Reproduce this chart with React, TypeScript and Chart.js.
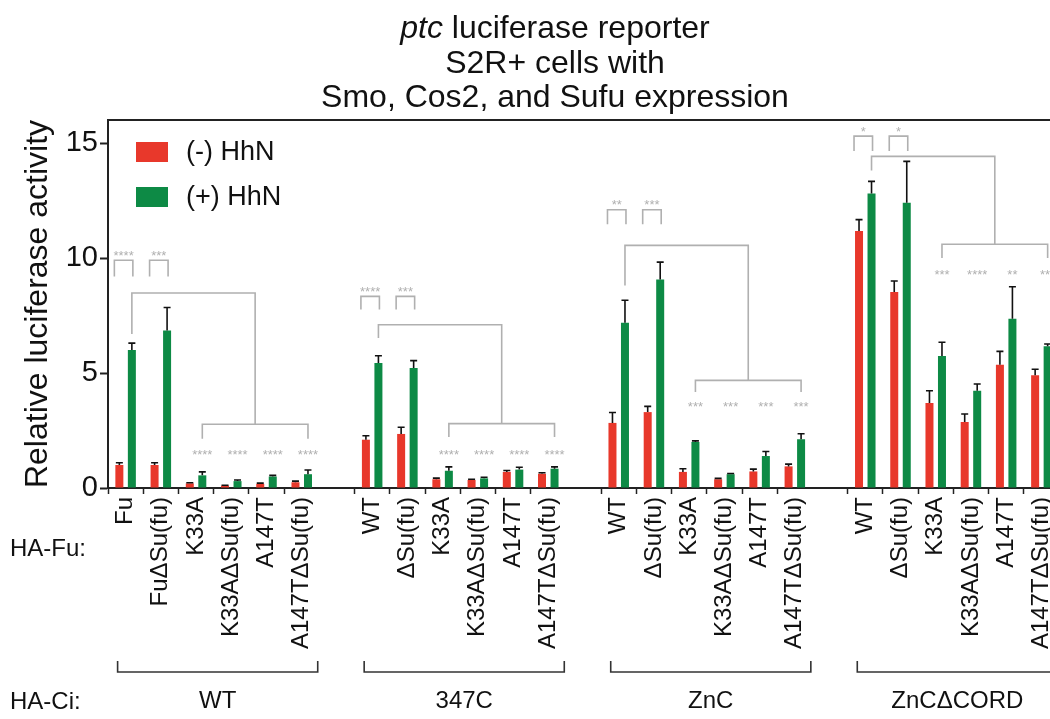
import React, { useEffect, useRef } from 'react';
import { Chart, registerables } from 'chart.js';

Chart.register(...registerables);

// ---------------- data ----------------
const groupNames = ['WT', '347C', 'ZnC', 'ZnCΔCORD'];
const fuLabelsWT = ['Fu', 'FuΔSu(fu)', 'K33A', 'K33AΔSu(fu)', 'A147T', 'A147TΔSu(fu)'];
const fuLabelsMut = ['WT', 'ΔSu(fu)', 'K33A', 'K33AΔSu(fu)', 'A147T', 'A147TΔSu(fu)'];
const seriesNames = ['(-) HhN', '(+) HhN'];

const minusWT = [1.0, 1.0, 0.2, 0.1, 0.18, 0.25];
const plusWT = [6.0, 6.85, 0.55, 0.3, 0.5, 0.6];
const minusErrWT = [0.1, 0.1, 0.03, 0.02, 0.03, 0.05];
const plusErrWT = [0.3, 1.0, 0.15, 0.05, 0.05, 0.18];

const minus347C = [2.1, 2.35, 0.38, 0.35, 0.7, 0.62];
const plus347C = [5.43, 5.22, 0.75, 0.42, 0.8, 0.84];
const minusErr347C = [0.17, 0.29, 0.05, 0.03, 0.06, 0.04];
const plusErr347C = [0.32, 0.32, 0.17, 0.05, 0.1, 0.08];

const minusZnC = [2.83, 3.3, 0.7, 0.38, 0.72, 0.94];
const plusZnC = [7.19, 9.07, 2.0, 0.6, 1.39, 2.12];
const minusErrZnC = [0.45, 0.25, 0.14, 0.04, 0.1, 0.1];
const plusErrZnC = [0.97, 0.75, 0.05, 0.03, 0.2, 0.24];

const minusCord = [11.17, 8.52, 3.7, 2.87, 5.36, 4.9];
const plusCord = [12.8, 12.4, 5.74, 4.23, 7.36, 6.16];
const minusErrCord = [0.5, 0.48, 0.53, 0.35, 0.58, 0.26];
const plusErrCord = [0.53, 1.8, 0.6, 0.29, 1.39, 0.1];

const yTicks = [0, 5, 10, 15];

// significance annotations (values in data units)
const pairBracketY = [9.9, 8.33, 12.1, 15.3];
const pairLegY = [9.2, 7.76, 11.47, 14.65];
const pairStars = [['****', '***'], ['****', '***'], ['**', '***'], ['*', '*']];
const upperBracketY = [8.48, 7.1, 10.55, 14.42];
const upperLegY = [6.7, 6.52, 8.8, 13.8];
const lowerBracketY = [2.77, 2.8, 4.68, 10.6];
const lowerLegY = [2.14, 2.22, 4.17, 10.0];
const lowerStarsY = [1.57, 1.6, 3.67, 9.43];
const lowerStars = [
  ['****', '****', '****', '****'],
  ['****', '****', '****', '****'],
  ['***', '***', '***', '***'],
  ['***', '****', '**', '***'],
];

// ---------------- build table ----------------
const groupLabels = [fuLabelsWT, fuLabelsMut, fuLabelsMut, fuLabelsMut];
const groupMinus = [minusWT, minus347C, minusZnC, minusCord];
const groupPlus = [plusWT, plus347C, plusZnC, plusCord];
const groupMinusErr = [minusErrWT, minusErr347C, minusErrZnC, minusErrCord];
const groupPlusErr = [plusErrWT, plusErr347C, plusErrZnC, plusErrCord];

const labels: string[] = [];
const minusData: (number | null)[] = [];
const plusData: (number | null)[] = [];
const minusErr: (number | null)[] = [];
const plusErr: (number | null)[] = [];
const groupStart: number[] = [];
groupLabels.forEach((g, gi) => {
  if (gi > 0) {
    labels.push('');
    minusData.push(null);
    plusData.push(null);
    minusErr.push(null);
    plusErr.push(null);
  }
  groupStart.push(labels.length);
  g.forEach((l, i) => {
    labels.push(l);
    minusData.push(groupMinus[gi][i]);
    plusData.push(groupPlus[gi][i]);
    minusErr.push(groupMinusErr[gi][i]);
    plusErr.push(groupPlusErr[gi][i]);
  });
});

// ---------------- style ----------------
const FONT = "'Liberation Sans', Arial, Helvetica, sans-serif";
const RED = '#E8382B';
const GREEN = '#0D8A45';
const ANN = '#b0b0b0';
const W = 1110;
const H = 719;

const overlay = {
  id: 'overlay',
  afterDatasetsDraw(chart: any) {
    const { ctx } = chart;
    const y = chart.scales.y;
    const errs = [minusErr, plusErr];
    ctx.save();
    ctx.strokeStyle = '#111';
    ctx.lineWidth = 1.6;
    [0, 1].forEach((d) => {
      const meta = chart.getDatasetMeta(d);
      const vals = chart.data.datasets[d].data;
      meta.data.forEach((el: any, i: number) => {
        const v = vals[i];
        const e = errs[d][i];
        if (v == null || e == null) return;
        const yt = y.getPixelForValue(v + e);
        ctx.beginPath();
        ctx.moveTo(el.x, el.y);
        ctx.lineTo(el.x, yt);
        ctx.moveTo(el.x - 3.5, yt);
        ctx.lineTo(el.x + 3.5, yt);
        ctx.stroke();
      });
    });
    ctx.restore();
  },
  afterDraw(chart: any) {
    const { ctx, chartArea } = chart;
    const x = chart.scales.x;
    const y = chart.scales.y;
    const redMeta = chart.getDatasetMeta(0);
    const greenMeta = chart.getDatasetMeta(1);
    const rx = (i: number) => redMeta.data[i].x;
    const gx = (i: number) => greenMeta.data[i].x;
    const py = (v: number) => y.getPixelForValue(v);

    ctx.save();
    // top frame line
    ctx.strokeStyle = '#222';
    ctx.lineWidth = 2;
    ctx.beginPath();
    ctx.moveTo(chartArea.left - 1, chartArea.top);
    ctx.lineTo(chartArea.right, chartArea.top);
    ctx.stroke();

    // title
    ctx.fillStyle = '#111';
    ctx.textBaseline = 'alphabetic';
    const cx = W / 2;
    const TF = 32;
    ctx.font = `italic ${TF}px ${FONT}`;
    const wIt = ctx.measureText('ptc').width;
    ctx.font = `${TF}px ${FONT}`;
    const wRest = ctx.measureText(' luciferase reporter').width;
    const x0 = cx - (wIt + wRest) / 2;
    ctx.font = `italic ${TF}px ${FONT}`;
    ctx.textAlign = 'left';
    ctx.fillText('ptc', x0, 38);
    ctx.font = `${TF}px ${FONT}`;
    ctx.fillText(' luciferase reporter', x0 + wIt, 38);
    ctx.textAlign = 'center';
    ctx.fillText('S2R+ cells with', cx, 73);
    ctx.fillText('Smo, Cos2, and Sufu expression', cx, 107);

    // y axis title
    ctx.save();
    ctx.translate(38, (chartArea.top + chartArea.bottom) / 2);
    ctx.rotate(-Math.PI / 2);
    ctx.font = `32px ${FONT}`;
    ctx.textAlign = 'center';
    ctx.textBaseline = 'middle';
    ctx.fillText('Relative luciferase activity', 0, 0);
    ctx.restore();

    // legend
    const legendColors = [RED, GREEN];
    seriesNames.forEach((n, i) => {
      const top = 142 + i * 45;
      ctx.fillStyle = legendColors[i];
      ctx.fillRect(136, top, 32, 20);
      ctx.fillStyle = '#111';
      ctx.font = `27px ${FONT}`;
      ctx.textAlign = 'left';
      ctx.textBaseline = 'middle';
      ctx.fillText(n, 186, top + 11);
    });

    // significance annotations
    ctx.strokeStyle = ANN;
    ctx.lineWidth = 1.6;
    ctx.fillStyle = ANN;
    const starFont = 13;
    ctx.font = `${starFont}px ${FONT}`;
    ctx.textAlign = 'center';
    ctx.textBaseline = 'alphabetic';
    const star = (s: string, xx: number, v: number) => {
      ctx.fillText(s, xx, py(v) + starFont * 0.58);
    };
    groupStart.forEach((s, gi) => {
      // pair brackets
      [0, 1].forEach((k) => {
        const i = s + k;
        const l = rx(i) - 5;
        const r = gx(i) + 1;
        ctx.beginPath();
        ctx.moveTo(l, py(pairLegY[gi]));
        ctx.lineTo(l, py(pairBracketY[gi]));
        ctx.lineTo(r, py(pairBracketY[gi]));
        ctx.lineTo(r, py(pairLegY[gi]));
        ctx.stroke();
        star(pairStars[gi][k], (l + r) / 2, pairBracketY[gi] + 0.35);
      });
      // lower bracket
      const ll = gx(s + 2);
      const lr = gx(s + 5);
      ctx.beginPath();
      ctx.moveTo(ll, py(lowerLegY[gi]));
      ctx.lineTo(ll, py(lowerBracketY[gi]));
      ctx.lineTo(lr, py(lowerBracketY[gi]));
      ctx.lineTo(lr, py(lowerLegY[gi]));
      ctx.stroke();
      for (let k = 0; k < 4; k++) {
        star(lowerStars[gi][k], gx(s + 2 + k), lowerStarsY[gi]);
      }
      // upper bracket
      const ul = gx(s);
      const ur = (ll + lr) / 2;
      ctx.beginPath();
      ctx.moveTo(ul, py(upperLegY[gi]));
      ctx.lineTo(ul, py(upperBracketY[gi]));
      ctx.lineTo(ur, py(upperBracketY[gi]));
      ctx.lineTo(ur, py(lowerBracketY[gi]));
      ctx.stroke();
    });

    // HA-Fu / HA-Ci row labels
    ctx.fillStyle = '#111';
    ctx.font = `24px ${FONT}`;
    ctx.textAlign = 'left';
    ctx.textBaseline = 'middle';
    ctx.fillText('HA-Fu:', 10, 549);
    ctx.fillText('HA-Ci:', 10, 702);

    // group brackets + names
    ctx.strokeStyle = '#333';
    ctx.lineWidth = 1.6;
    ctx.font = `24px ${FONT}`;
    ctx.textAlign = 'center';
    groupStart.forEach((s, gi) => {
      const l = x.getPixelForValue(s) - 8;
      const r = x.getPixelForValue(s + 5) + 16;
      ctx.beginPath();
      ctx.moveTo(l, 661);
      ctx.lineTo(l, 672);
      ctx.lineTo(r, 672);
      ctx.lineTo(r, 661);
      ctx.stroke();
      ctx.fillText(groupNames[gi], (l + r) / 2, 701);
    });
    ctx.restore();
  },
};

export default function App() {
  const ref = useRef<HTMLCanvasElement | null>(null);
  useEffect(() => {
    if (!ref.current) return;
    const chart = new Chart(ref.current, {
      type: 'bar',
      data: {
        labels,
        datasets: [
          { label: seriesNames[0], data: minusData, backgroundColor: RED, borderWidth: 0 },
          { label: seriesNames[1], data: plusData, backgroundColor: GREEN, borderWidth: 0 },
        ],
      },
      options: {
        animation: false,
        responsive: false,
        devicePixelRatio: 1,
        layout: { padding: { top: 120, right: 51, left: 0, bottom: 0 } },
        datasets: { bar: { categoryPercentage: 0.71, barPercentage: 0.64 } },
        plugins: { legend: { display: false }, title: { display: false }, tooltip: { enabled: false } },
        scales: {
          x: {
            afterFit: (s: any) => { s.height = 231; },
            grid: {
              display: true,
              drawOnChartArea: false,
              tickLength: 6,
              tickWidth: 1.5,
              tickColor: (c: any) => (labels[c.index] ? '#222' : 'rgba(0,0,0,0)'),
            },
            border: { display: true, color: '#222', width: 2 },
            ticks: {
              autoSkip: false,
              minRotation: 90,
              maxRotation: 90,
              padding: 3,
              color: '#111',
              font: { family: FONT, size: 24 },
            },
          },
          y: {
            min: 0,
            max: 16,
            afterFit: (s: any) => { s.width = 108; },
            afterBuildTicks: (s: any) => { s.ticks = yTicks.map((v) => ({ value: v })); },
            grid: { display: true, drawOnChartArea: false, tickLength: 8, tickWidth: 2, tickColor: '#222' },
            border: { display: true, color: '#222', width: 2 },
            ticks: { padding: 2, color: '#111', font: { family: FONT, size: 29 } },
          },
        },
      },
      plugins: [overlay],
    });
    return () => chart.destroy();
  }, []);
  return (
    <div style={{ position: 'fixed', left: 0, top: 0, width: 1050, height: 719, overflow: 'hidden', background: '#fff' }}>
      <canvas ref={ref} width={W} height={H} style={{ display: 'block', width: W, height: H }} />
    </div>
  );
}
